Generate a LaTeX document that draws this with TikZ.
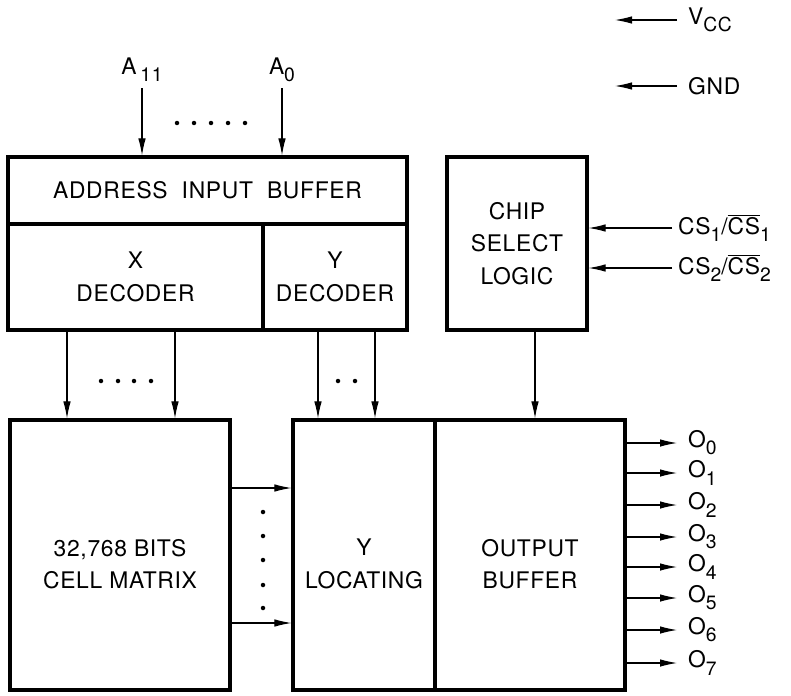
\documentclass[tikz,border=0pt]{standalone}
\usepackage{fontspec}
\setmainfont{TeX Gyre Heros}[LetterSpace=3]
\usetikzlibrary{arrows.meta}

\newcommand{\lowsub}[1]{\raisebox{-0.6ex}{\fontsize{11}{12}\selectfont #1}}

\begin{document}
\begin{tikzpicture}[x=0.02cm,y=-0.02cm,
    blk/.style={draw,line width=1.8pt,inner sep=0pt,align=center,
        font=\fontsize{13}{18.5}\selectfont},
    arr/.style={-{Latex[length=0.34cm,width=0.15cm]},line width=0.6pt},
    lbl/.style={font=\fontsize{13}{18.5}\selectfont,align=center}]

    \useasboundingbox (0,0) rectangle (791,696);

    % address buffer and decoders
    \node[blk,minimum width=7.98cm,minimum height=1.34cm] (addr) at (207.5,190.5)
        {ADDRESS\ \ INPUT\ \ BUFFER};
    \node[blk,minimum width=5.1cm,minimum height=2.12cm] (xdec) at (135.5,277)
        {X\\DECODER};
    \node[blk,minimum width=2.88cm,minimum height=2.12cm] (ydec) at (335,277)
        {Y\\DECODER};

    % chip select
    \node[blk,minimum width=2.8cm,minimum height=3.46cm] (chip) at (517,243.5)
        {CHIP\\SELECT\\LOGIC};

    % lower row
    \node[blk,minimum width=4.4cm,minimum height=5.4cm,
        label={[lbl,yshift=-0.18cm]center:32,768 BITS\\CELL\ MATRIX}] (cell) at (120,555) {};
    \node[blk,minimum width=2.84cm,minimum height=5.4cm,
        label={[lbl,yshift=-0.18cm]center:Y\\LOCATING}] (yloc) at (364,555) {};
    \node[blk,minimum width=3.8cm,minimum height=5.4cm,
        label={[lbl,yshift=-0.18cm]center:OUTPUT\\BUFFER}] (obuf) at (530,555) {};

    % address inputs
    \node[lbl] (a11) at (142,70) {A\,\lowsub{11}};
    \node[lbl] (a0) at (282,70) {A\lowsub{0}};
    \draw[arr] (a11.south) -- (a11 |- addr.north);
    \draw[arr] (a0.south) -- (a0 |- addr.north);
    \foreach \px in {177,194,211,228,245}
        \fill (\px,123) circle[radius=0.045cm];

    % supply
    \node[lbl,anchor=west] (vcc) at (682,20) {V\lowsub{CC}};
    \node[lbl,anchor=west] (gnd) at (682,86) {GND};
    \draw[arr] ([xshift=-0.1cm]vcc.west) -- ++(-62,0);
    \draw[arr] ([xshift=-0.1cm]gnd.west) -- ++(-62,0);

    % chip select inputs
    \node[lbl,anchor=west] (cs1) at (672,228) {CS\lowsub{1}/$\overline{\mbox{CS}}$\lowsub{1}};
    \node[lbl,anchor=west] (cs2) at (672,268) {CS\lowsub{2}/$\overline{\mbox{CS}}$\lowsub{2}};
    \draw[arr] (cs1.west) -- (cs1.west -| chip.east);
    \draw[arr] (cs2.west) -- (cs2.west -| chip.east);

    % decoder outputs
    \foreach \px/\n in {67/a,175/b} {
        \coordinate (x\n) at (\px,330);
        \draw[arr] (x\n) -- (x\n |- cell.north);
    }
    \foreach \px/\n in {318/a,375/b} {
        \coordinate (y\n) at (\px,330);
        \draw[arr] (y\n) -- (y\n |- yloc.north);
    }
    \foreach \px in {101,118,134,151}
        \fill (\px,381) circle[radius=0.045cm];
    \foreach \px in {338,355}
        \fill (\px,381) circle[radius=0.045cm];

    % chip select to output buffer
    \coordinate (cso) at (535,330);
    \draw[arr] (cso) -- (cso |- obuf.north);

    % cell matrix to Y locating
    \foreach \py/\n in {488/a,623/b} {
        \coordinate (c\n) at (230,\py);
        \draw[arr] (c\n) -- (c\n -| yloc.west);
    }
    \foreach \py in {512,536,560,585,608}
        \fill (263,\py) circle[radius=0.045cm];

    % outputs
    \foreach \i/\py in {0/443,1/473,2/505,3/537,4/567,5/598,6/630,7/663} {
        \node[lbl,anchor=west] (o\i) at (682,\py) {O\lowsub{\i}};
        \draw[arr,shorten >=0.1cm] (obuf.east |- o\i.west) -- (o\i.west);
    }

\end{tikzpicture}
\end{document}
